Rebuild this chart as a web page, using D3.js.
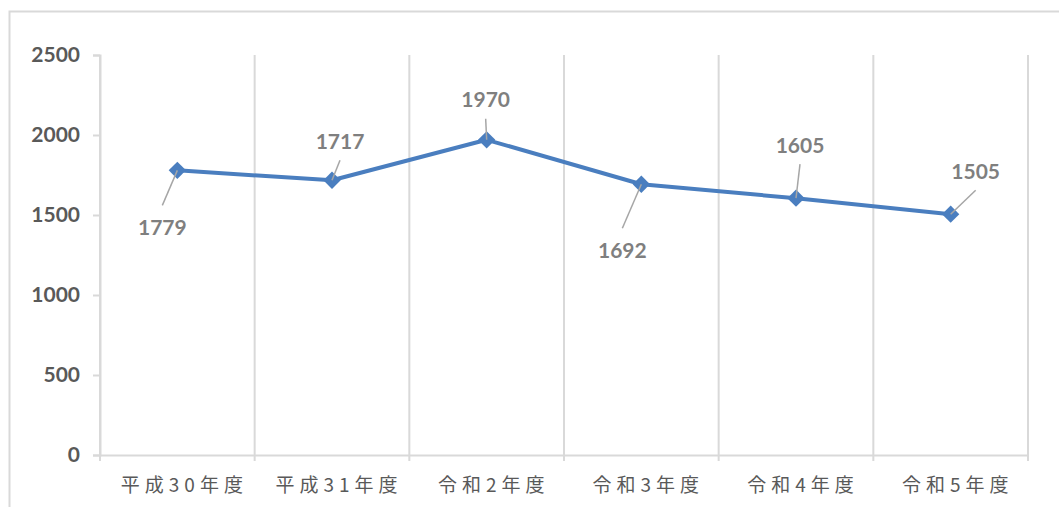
<!DOCTYPE html>
<html>
<head>
<meta charset="utf-8">
<script src="https://cdn.jsdelivr.net/npm/d3@7"></script>
<style>
  body { margin: 0; background: #fff; }
</style>
</head>
<body>
<div id="chart"></div>
<script>
// data
var years = ["平成30年度", "平成31年度", "令和2年度", "令和3年度", "令和4年度", "令和5年度"];
var counts = [1779, 1717, 1970, 1692, 1605, 1505];
var yTicks = [0, 500, 1000, 1500, 2000, 2500];

// where each data label sits, relative to its point
var labelOffsets = [[-15, 57], [8, -39], [-1, -40], [-19, 66], [4, -53], [25, -43]];

var W = 1059, H = 507;
var margin = { top: 55, right: 31, bottom: 52, left: 100 },
    width = W - margin.left - margin.right,
    height = H - margin.top - margin.bottom;

var grey = "#d9d9d9";

var root = d3.select("#chart")
    .append("svg")
    .attr("width", W)
    .attr("height", H);

// chart frame
root.append("rect")
    .attr("x", 9.5).attr("y", 11.5)
    .attr("width", W).attr("height", H)
    .attr("fill", "none")
    .attr("stroke", grey)
    .attr("stroke-width", 2);

var svg = root.append("g")
    .attr("transform", "translate(" + margin.left + "," + margin.top + ")");

var x = d3.scaleBand().domain(years).range([0, width]);
var y = d3.scaleLinear().domain([0, 2500]).range([height, 0]);

// vertical gridlines between categories
var bounds = years.map(function (d) { return x(d); }).concat([width]);
svg.append("g")
    .selectAll("line")
    .data(bounds)
    .enter()
    .append("line")
    .attr("x1", function (d) { return d; })
    .attr("x2", function (d) { return d; })
    .attr("y1", 0)
    .attr("y2", height + 6)
    .attr("stroke", grey)
    .attr("stroke-width", 2);

// y axis
var yAxis = svg.append("g")
    .call(d3.axisLeft(y).tickValues(yTicks).tickFormat(d3.format("d")).tickSize(7).tickPadding(13));
yAxis.select(".domain").attr("stroke", grey).attr("stroke-width", 2);
yAxis.selectAll(".tick line").attr("stroke", grey).attr("stroke-width", 2);
yAxis.selectAll(".tick text")
    .attr("fill", "#595959")
    .style("font-family", "Lato, 'Liberation Sans', sans-serif")
    .style("font-weight", "bold")
    .style("font-size", "21px");

// x axis
var xAxis = svg.append("g")
    .attr("transform", "translate(0," + height + ")")
    .call(d3.axisBottom(x).tickSize(0).tickPadding(24));
xAxis.select(".domain").attr("stroke", grey).attr("stroke-width", 2);
xAxis.selectAll(".tick text")
    .attr("fill", "#595959")
    .attr("dx", "7px")
    .style("font-family", "'Noto Sans CJK JP', sans-serif")
    .style("font-size", "19px")
    .style("letter-spacing", "5px");

// line
var line = d3.line()
    .x(function (d, i) { return x(years[i]) + x.bandwidth() / 2; })
    .y(function (d) { return y(d); });

svg.append("path")
    .datum(counts)
    .attr("fill", "none")
    .attr("stroke", "#4a7ebf")
    .attr("stroke-width", 4)
    .attr("stroke-linejoin", "round")
    .attr("d", line);

// diamond markers
svg.selectAll(".marker")
    .data(counts)
    .enter()
    .append("path")
    .attr("class", "marker")
    .attr("d", d3.symbol().type(d3.symbolSquare).size(150))
    .attr("fill", "#4a7ebf")
    .attr("transform", function (d, i) {
        return "translate(" + (x(years[i]) + x.bandwidth() / 2) + "," + y(d) + ") rotate(45)";
    });

// leader lines
svg.selectAll(".leader")
    .data(counts)
    .enter()
    .append("line")
    .attr("class", "leader")
    .attr("x1", function (d, i) { return x(years[i]) + x.bandwidth() / 2; })
    .attr("y1", function (d) { return y(d); })
    .attr("x2", function (d, i) { return x(years[i]) + x.bandwidth() / 2 + labelOffsets[i][0]; })
    .attr("y2", function (d, i) {
        var o = labelOffsets[i][1];
        return y(d) + o + (o > 0 ? -22 : 19);
    })
    .attr("stroke", "#a6a6a6")
    .attr("stroke-width", 1.5);

// data labels
svg.selectAll(".label")
    .data(counts)
    .enter()
    .append("text")
    .attr("class", "label")
    .attr("x", function (d, i) { return x(years[i]) + x.bandwidth() / 2 + labelOffsets[i][0]; })
    .attr("y", function (d, i) { return y(d) + labelOffsets[i][1]; })
    .attr("dy", "0.35em")
    .attr("text-anchor", "middle")
    .attr("fill", "#7f7f7f")
    .style("font-family", "Lato, 'Liberation Sans', sans-serif")
    .style("font-weight", "bold")
    .style("font-size", "21px")
    .text(function (d) { return d; });
</script>
</body>
</html>
